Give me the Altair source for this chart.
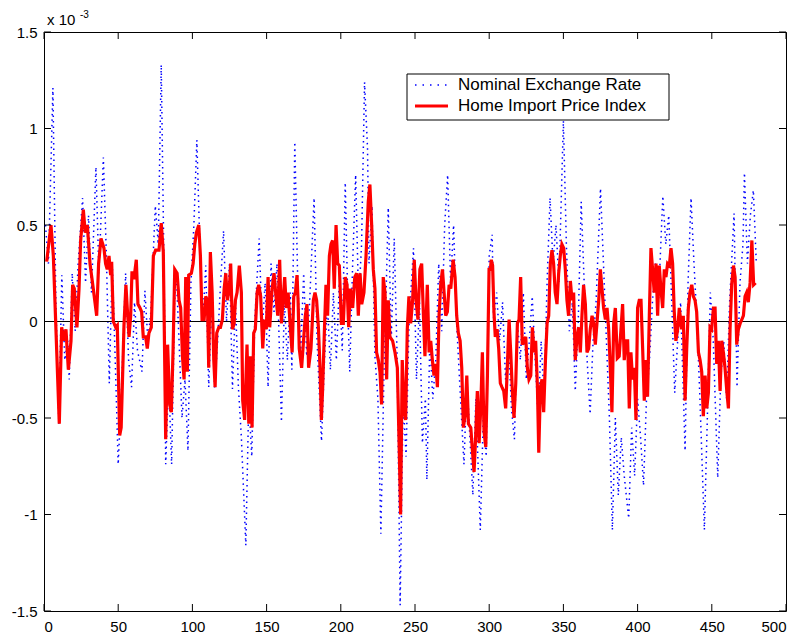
import altair as alt
import pandas as pd

# ---- data (values in units of 1e-3) ----
red_t = [1.8, 4.7, 6.3, 10.3, 11.9, 13.5, 14.8, 16.4, 18.2, 19.3, 20.4, 22.2, 23.6, 24.7, 26.5, 27.8, 29.2, 31.0, 33.2, 35.5,
         36.8, 38.4, 40.4, 41.5, 42.6, 43.8, 44.9, 45.6, 46.7, 48.3, 49.4, 51.0, 52.0, 53.9, 55.2, 56.1, 57.3, 58.4, 59.3, 60.6,
         62.2, 63.3, 64.7, 65.8, 66.9, 68.5, 69.6, 70.7, 72.3, 73.7, 75.2, 77.5, 79.0, 80.4, 82.0, 83.3, 84.7, 85.8, 87.0, 88.1,
         89.7, 91.0, 92.1, 93.3, 94.4, 95.5, 96.6, 97.5, 99.3, 100.5, 101.6, 102.7, 104.3, 105.4, 106.5, 107.9, 109.0, 110.1, 111.0, 112.1,
         113.3, 114.4, 115.3, 116.4, 117.8, 118.9, 120.2, 121.4, 122.5, 123.6, 124.9, 125.8, 127.0, 128.1, 129.0, 130.1, 131.6, 133.0, 133.9, 135.2,
         136.8, 138.0, 139.1, 140.2, 141.3, 142.4, 143.6, 144.7, 146.0, 147.4, 148.5, 149.8, 151.0, 152.1, 153.7, 155.0, 156.1, 157.5, 158.8, 160.0,
         161.1, 162.2, 163.3, 164.5, 165.8, 167.2, 168.3, 169.4, 170.5, 171.2, 172.0, 173.6, 174.7, 176.1, 177.2, 178.3, 179.9, 181.5, 182.6, 183.7,
         184.9, 186.0, 186.9, 187.8, 188.9, 190.0, 191.1, 192.3, 193.4, 194.5, 195.6, 196.8, 197.9, 199.0, 200.4, 201.7, 203.0, 204.2, 205.3, 206.4,
         208.0, 209.4, 210.7, 211.8, 213.0, 214.1, 215.6, 217.0, 218.5, 219.6, 220.8, 221.9, 223.0, 224.1, 225.3, 226.4, 227.5, 228.6, 229.8, 230.9,
         232.0, 233.1, 234.9, 236.5, 238.1, 239.4, 240.3, 241.4, 242.8, 243.7, 244.8, 245.9, 247.1, 248.4, 249.5, 250.7, 252.0, 253.3, 254.5, 255.6,
         256.7, 258.3, 259.5, 260.6, 261.7, 262.8, 264.0, 265.1, 266.2, 267.3, 268.5, 269.6, 270.7, 271.8, 273.0, 274.1, 275.7, 277.0, 278.1, 279.2,
         280.4, 281.5, 282.6, 283.7, 284.9, 286.0, 287.6, 288.9, 289.8, 290.9, 292.0, 293.2, 294.3, 295.4, 296.5, 297.7, 298.8, 299.9, 300.8, 301.4,
         302.3, 303.2, 304.1, 305.3, 306.4, 307.5, 308.6, 309.8, 311.1, 312.2, 313.4, 314.5, 315.6, 316.7, 317.9, 319.0, 320.1, 321.2, 322.3, 323.5,
         324.6, 325.7, 326.8, 328.0, 329.1, 330.2, 331.3, 332.5, 333.4, 334.5, 335.6, 336.7, 337.9, 339.0, 340.1, 341.2, 342.3, 343.4, 344.5, 345.7,
         346.8, 347.9, 349.0, 350.2, 351.3, 352.4, 353.5, 354.7, 355.8, 356.9, 358.0, 359.2, 360.3, 361.4, 362.5, 363.6, 364.8, 365.9, 367.0, 368.1,
         369.3, 370.4, 371.5, 372.6, 373.8, 374.9, 376.0, 377.1, 378.3, 379.4, 380.5, 381.6, 382.7, 383.9, 385.0, 386.3, 387.6, 388.8, 389.9, 391.0,
         392.1, 393.3, 394.4, 395.5, 396.6, 397.8, 398.9, 400.0, 401.1, 402.3, 403.4, 404.5, 405.6, 406.7, 407.9, 409.0, 410.1, 411.2, 412.4, 413.5,
         414.6, 415.7, 416.9, 418.0, 419.1, 420.2, 421.4, 422.5, 423.6, 424.7, 425.8, 427.0, 428.1, 429.7, 430.8, 432.0, 433.1, 434.2, 435.3, 436.5,
         437.6, 438.7, 439.8, 441.0, 442.1, 443.2, 444.3, 445.5, 446.6, 447.7, 448.8, 449.9, 451.1, 452.2, 453.3, 454.4, 455.6, 456.7, 457.8, 458.9,
         460.1, 461.2, 462.3, 463.4, 464.6, 465.7, 466.8, 467.9, 469.1, 470.2, 471.3, 472.4, 473.5, 474.6, 475.8, 477.0, 478.2, 479.5]
red_v = [0.31, 0.50, 0.34, -0.53, -0.03, -0.10, -0.04, -0.25, -0.10, 0.19, 0.17, -0.03, 0.17, 0.42, 0.58, 0.46, 0.50, 0.30, 0.17, 0.03,
         0.30, 0.43, 0.38, 0.30, 0.27, 0.34, 0.24, 0.31, 0.00, -0.03, -0.02, -0.59, -0.55, -0.02, 0.19, 0.07, -0.08, 0.03, 0.26, 0.22,
         0.32, 0.09, 0.07, 0.05, -0.08, -0.08, -0.14, -0.06, -0.03, 0.34, 0.37, 0.37, 0.51, 0.36, -0.61, -0.12, -0.43, -0.47, -0.14, 0.27,
         0.25, 0.11, 0.07, -0.18, -0.30, 0.23, -0.26, 0.24, 0.25, 0.30, 0.40, 0.46, 0.50, 0.34, 0.01, 0.01, 0.13, 0.11, -0.24, 0.36,
         0.15, -0.20, -0.34, -0.06, -0.03, -0.03, 0.01, 0.17, 0.25, 0.11, 0.17, 0.30, -0.04, -0.01, 0.11, 0.15, 0.29, 0.15, -0.41, -0.51,
         -0.12, -0.53, -0.18, -0.55, -0.06, -0.04, 0.15, 0.19, 0.13, -0.14, 0.01, -0.04, 0.23, -0.03, 0.17, 0.25, 0.15, 0.03, 0.32, -0.01,
         0.11, 0.23, 0.07, 0.15, -0.01, -0.16, 0.13, 0.15, 0.24, 0.11, -0.14, -0.24, -0.12, 0.03, 0.09, -0.24, -0.14, 0.11, 0.15, 0.11,
         -0.03, -0.24, -0.51, -0.34, -0.06, 0.19, 0.03, 0.34, 0.40, 0.42, 0.17, 0.50, 0.30, 0.29, -0.01, -0.01, 0.23, 0.19, -0.03, 0.17,
         0.07, 0.23, 0.25, 0.03, 0.25, 0.09, 0.15, 0.34, 0.62, 0.71, 0.50, 0.27, 0.17, -0.16, -0.20, -0.26, -0.43, 0.23, 0.15, -0.30,
         0.11, -0.08, -0.10, -0.16, -0.24, -0.67, -1.00, -0.20, -0.47, -0.51, -0.04, 0.13, -0.01, 0.11, 0.32, 0.11, 0.01, 0.27, 0.30, 0.05,
         -0.18, 0.19, -0.16, -0.10, -0.20, -0.28, -0.22, -0.34, 0.03, 0.19, 0.27, 0.15, 0.03, 0.05, 0.19, 0.17, 0.32, 0.23, 0.03, -0.06,
         -0.10, -0.24, -0.55, -0.49, -0.28, -0.53, -0.55, -0.69, -0.78, -0.59, -0.36, -0.63, -0.45, -0.16, -0.57, -0.65, -0.28, 0.27, 0.27, 0.32,
         0.29, 0.05, -0.08, -0.04, -0.14, -0.32, -0.34, -0.36, -0.45, -0.24, 0.01, -0.16, -0.36, -0.50, -0.32, -0.01, 0.01, 0.23, -0.12, -0.10,
         -0.08, -0.24, -0.30, -0.28, -0.03, -0.16, -0.10, -0.34, -0.68, -0.34, -0.30, -0.47, -0.20, -0.01, 0.03, 0.30, 0.37, 0.30, 0.15, 0.09,
         0.25, 0.34, 0.40, 0.38, 0.27, 0.11, 0.03, 0.21, 0.11, 0.15, -0.20, -0.08, -0.03, -0.16, 0.03, 0.19, 0.09, -0.16, -0.14, -0.04,
         0.03, -0.01, -0.12, -0.01, 0.11, 0.27, 0.17, 0.07, 0.01, 0.07, -0.04, -0.24, -0.47, -0.01, 0.07, -0.19, -0.18, -0.04, 0.09, -0.20,
         -0.10, -0.10, -0.45, -0.16, -0.30, -0.24, -0.51, 0.07, 0.11, 0.11, -0.14, -0.41, -0.20, -0.39, 0.03, 0.38, 0.27, 0.15, 0.30, 0.03,
         0.29, 0.17, 0.07, 0.27, 0.23, 0.30, 0.29, 0.38, 0.30, 0.05, -0.10, -0.04, 0.07, -0.04, 0.03, -0.41, -0.14, 0.07, 0.15, 0.19,
         0.13, 0.11, 0.05, -0.16, -0.20, -0.26, -0.49, -0.28, -0.45, -0.37, -0.03, -0.04, 0.07, 0.07, -0.22, -0.10, -0.36, -0.10, -0.16, -0.24,
         -0.36, -0.45, -0.04, 0.19, 0.29, 0.23, -0.12, -0.04, -0.01, 0.01, 0.03, 0.13, 0.15, 0.10, 0.20, 0.42, 0.19, 0.20]

blue_t = [1, 3, 6, 8, 10, 12, 14, 16, 17, 19, 21, 23, 26, 28, 30, 32, 35, 37, 40, 42,
          44, 46, 48, 50, 52, 55, 57, 59, 61, 63, 66, 68, 70, 72, 75, 77, 79, 81, 82, 84,
          86, 88, 89, 91, 93, 95, 97, 99, 101, 103, 105, 107, 109, 111, 113, 115, 117, 119, 121, 123,
          125, 127, 129, 131, 133, 136, 138, 140, 142, 145, 147, 149, 151, 153, 155, 157, 160, 162, 164, 166,
          167, 169, 171, 173, 175, 177, 179, 182, 184, 187, 189, 191, 193, 195, 197, 199, 201, 203, 205, 206,
          208, 210, 212, 214, 216, 218, 219, 221, 223, 225, 227, 229, 232, 234, 236, 238, 240, 242, 244, 246,
          249, 251, 253, 255, 257, 258, 260, 262, 264, 266, 268, 270, 272, 274, 276, 278, 280, 283, 285, 287,
          289, 291, 294, 296, 298, 300, 302, 303, 305, 307, 309, 311, 313, 315, 317, 319, 321, 323, 325, 327,
          329, 331, 333, 335, 337, 339, 341, 343, 345, 347, 350, 352, 354, 356, 358, 360, 362, 364, 366, 368,
          370, 372, 375, 377, 379, 381, 383, 385, 387, 389, 391, 394, 396, 398, 400, 402, 404, 406, 408, 410,
          412, 414, 417, 419, 421, 423, 425, 427, 429, 432, 434, 436, 438, 440, 442, 445, 447, 449, 451, 454,
          456, 458, 460, 462, 465, 467, 469, 471, 472, 474, 476, 478, 480]
blue_v = [0.50, 0.30, 1.21, 0.10, -0.53, 0.24, -0.20, -0.10, -0.30, 0.25, -0.05, 0.30, 0.64, 0.20, 0.55, 0.15, 0.80, 0.25, 0.85, 0.35,
          -0.32, 0.30, -0.20, -0.74, -0.40, 0.25, -0.20, -0.34, 0.10, -0.15, -0.26, 0.16, -0.10, 0.05, 0.60, 0.40, 1.33, 0.20, -0.74, -0.30,
          -0.74, 0.10, 0.27, -0.10, -0.50, -0.30, -0.67, 0.20, 0.50, 0.94, 0.40, 0.00, 0.29, -0.34, 0.10, -0.35, -0.10, 0.20, 0.47, 0.00,
          0.30, -0.35, 0.10, -0.34, -0.60, -1.16, -0.40, -0.70, 0.00, 0.43, -0.05, 0.20, -0.34, 0.30, 0.05, 0.30, -0.52, 0.10, -0.20, 0.15,
          -0.25, 0.93, 0.20, -0.15, 0.25, -0.18, 0.10, 0.64, -0.10, -0.62, -0.20, 0.10, -0.25, 0.15, -0.20, 0.20, -0.15, 0.72, 0.00, -0.26,
          0.30, 0.76, 0.10, 0.40, 1.24, 0.90, 0.30, 0.60, -0.18, -0.40, -1.10, -0.30, 0.59, -0.10, 0.43, -0.20, -1.47, -0.40, -0.70, 0.00,
          0.38, -0.30, 0.10, -0.63, -0.40, -0.82, -0.10, -0.40, -0.20, 0.30, -0.05, 0.50, 0.76, 0.20, 0.50, 0.00, -0.30, -0.74, -0.30, -0.60,
          -0.90, -0.40, -1.08, -0.50, -0.70, 0.34, 0.45, 0.00, 0.15, -0.10, 0.10, -0.30, -0.10, -0.45, -0.61, 0.00, -0.20, 0.15, -0.30, -0.10,
          0.13, -0.20, -0.50, -0.10, -0.40, 0.20, 0.64, 0.30, 0.50, 0.20, 1.04, 0.40, -0.05, 0.10, -0.36, 0.00, 0.62, 0.20, -0.20, -0.48,
          -0.10, 0.10, 0.69, 0.30, -0.10, -0.50, -1.08, -0.50, -0.90, -0.60, -0.80, -1.02, -0.55, -0.80, -0.40, -0.60, -0.85, -0.40, -0.20, 0.10,
          0.30, 0.10, 0.65, 0.40, 0.55, 0.10, -0.37, -0.10, 0.10, -0.67, 0.20, 0.64, 0.30, 0.00, -0.40, -1.08, -0.50, 0.15, -0.10, -0.81,
          -0.30, -0.10, -0.40, 0.10, 0.56, -0.34, 0.20, 0.40, 0.77, 0.30, 0.55, 0.68, 0.30]

x_ticks = [0, 50, 100, 150, 200, 250, 300, 350, 400, 450, 500]
y_ticks = [-1.5, -1, -0.5, 0, 0.5, 1, 1.5]
legend_labels = ["Nominal Exchange Rate", "Home Import Price Index"]

W, H = 742, 579
FONT = "Liberation Sans"
xs = alt.Scale(domain=[0, 500], nice=False, zero=False)
ys = alt.Scale(domain=[-1.5, 1.5], nice=False, zero=False)

red_df = pd.DataFrame({"t": red_t, "v": red_v})
blue_df = pd.DataFrame({"t": blue_t, "v": blue_v})
one = pd.DataFrame({"a": [0]})

blue = alt.Chart(blue_df).mark_line(color="#0000ff", strokeWidth=1.5, strokeDash=[1.5, 4]).encode(
    x=alt.X("t:Q", scale=xs, axis=alt.Axis(values=x_ticks, title=None, grid=False, domain=False, tickSize=0,
                                           labelPadding=8, labelFont=FONT, labelFontSize=15, labelColor="black")),
    y=alt.Y("v:Q", scale=ys, axis=alt.Axis(values=y_ticks, title=None, grid=False, domain=False, tickSize=0,
                                           labelPadding=7, labelFont=FONT, labelFontSize=15, labelColor="black",
                                           labelExpr="'' + datum.value")),
)

zero = alt.Chart(pd.DataFrame({"v": [0]})).mark_rule(color="black", strokeWidth=1).encode(y=alt.Y("v:Q", scale=ys))

red = alt.Chart(red_df).mark_line(color="#ff0000", strokeWidth=3.2).encode(
    x=alt.X("t:Q", scale=xs), y=alt.Y("v:Q", scale=ys))

xt = pd.DataFrame({"t": x_ticks})
yt = pd.DataFrame({"v": y_ticks})
tick_b = alt.Chart(xt).mark_rule(color="black").encode(x=alt.X("t:Q", scale=xs), y=alt.value(H), y2=alt.value(H - 7))
tick_t = alt.Chart(xt).mark_rule(color="black").encode(x=alt.X("t:Q", scale=xs), y=alt.value(0), y2=alt.value(7))
tick_l = alt.Chart(yt).mark_rule(color="black").encode(y=alt.Y("v:Q", scale=ys), x=alt.value(0), x2=alt.value(7))
tick_r = alt.Chart(yt).mark_rule(color="black").encode(y=alt.Y("v:Q", scale=ys), x=alt.value(W), x2=alt.value(W - 7))

# legend
leg_box = alt.Chart(one).mark_rect(fill="white", stroke="black", strokeWidth=1).encode(
    x=alt.value(363), x2=alt.value(625), y=alt.value(42), y2=alt.value(88))
leg_blue = alt.Chart(one).mark_rule(color="#0000ff", strokeWidth=1.5, strokeDash=[1.5, 6]).encode(
    x=alt.value(371), x2=alt.value(404), y=alt.value(53))
leg_red = alt.Chart(one).mark_rule(color="#ff0000", strokeWidth=3).encode(
    x=alt.value(371), x2=alt.value(404), y=alt.value(74))
leg_t1 = alt.Chart(pd.DataFrame({"label": [legend_labels[0]]})).mark_text(
    align="left", baseline="middle", font=FONT, fontSize=17, color="black").encode(
    text="label:N", x=alt.value(414), y=alt.value(53))
leg_t2 = alt.Chart(pd.DataFrame({"label": [legend_labels[1]]})).mark_text(
    align="left", baseline="middle", font=FONT, fontSize=17, color="black").encode(
    text="label:N", x=alt.value(414), y=alt.value(74))

# exponent label
exp1 = alt.Chart(one).mark_text(align="left", baseline="middle", font=FONT, fontSize=15, color="black").encode(
    text=alt.value("x 10"), x=alt.value(3), y=alt.value(-12))
exp2 = alt.Chart(one).mark_text(align="left", baseline="middle", font=FONT, fontSize=10, color="black").encode(
    text=alt.value("-3"), x=alt.value(36), y=alt.value(-17))

chart = alt.layer(
    blue, zero, red, tick_b, tick_t, tick_l, tick_r,
    leg_box, leg_blue, leg_red, leg_t1, leg_t2, exp1, exp2
).properties(
    width=W, height=H,
    padding={"left": 36, "top": 24, "right": 6, "bottom": 26},
    autosize=alt.AutoSizeParams(type="none"),
    background="white",
).configure_view(stroke="black", strokeWidth=1)

chart.save("out.html", embed_options={"renderer": "svg", "actions": False})
